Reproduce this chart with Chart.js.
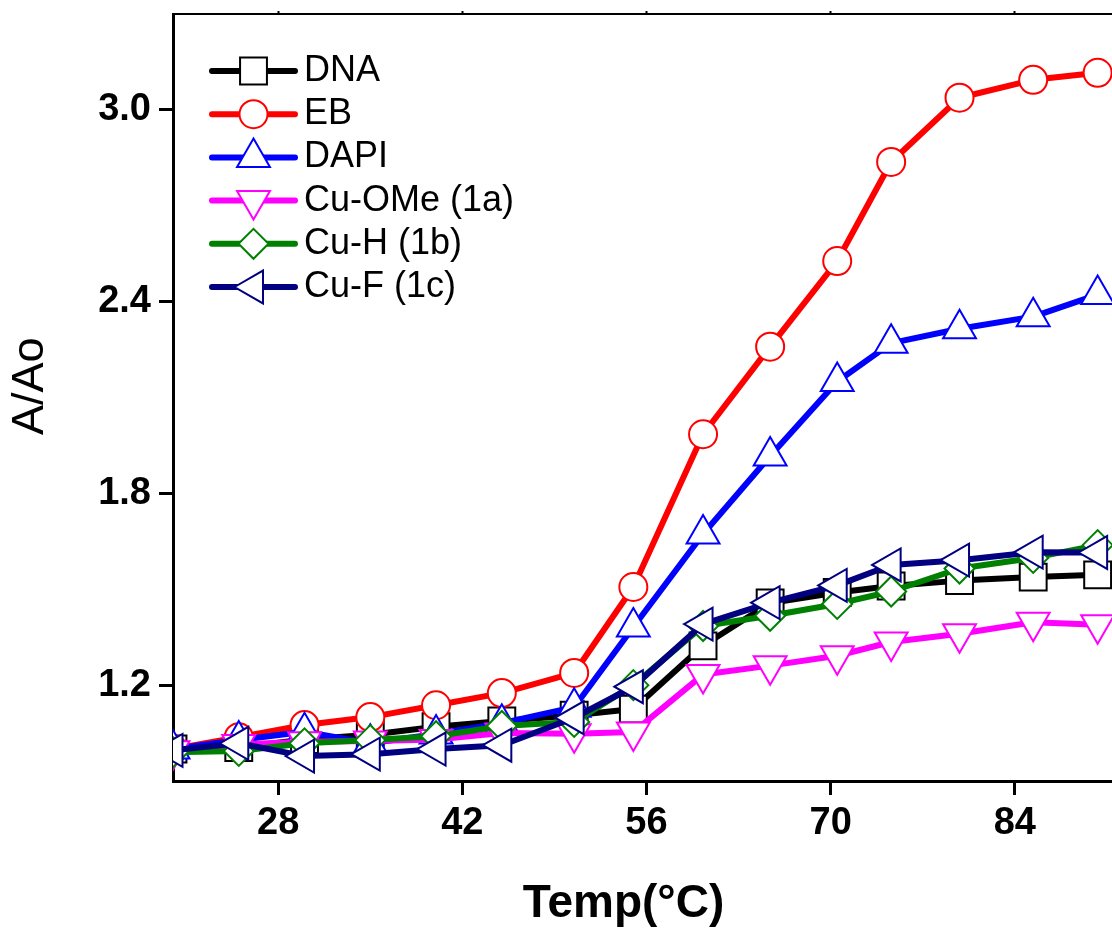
<!DOCTYPE html>
<html>
<head>
<meta charset="utf-8">
<script src="https://cdn.jsdelivr.net/npm/chart.js@4.4.0/dist/chart.umd.min.js"></script>
<style>
  html, body { margin: 0; padding: 0; background: #fff; overflow: hidden; }
  #meltChart { display: block; }
</style>
</head>
<body>
<canvas id="meltChart" width="1124" height="932"></canvas>
<script>
// Melting curves: relative absorbance A/Ao of DNA alone and with each binder
var temps = [20, 25, 30, 35, 40, 45, 50.5, 55, 60.3, 65.4, 70.5, 74.6, 79.8, 85.4, 90.3];

var dna   = [1.0, 1.005, 1.03, 1.045, 1.07, 1.088, 1.106, 1.125, 1.323, 1.457, 1.49, 1.51, 1.527, 1.538, 1.545];
var eb    = [1.0, 1.037, 1.075, 1.10, 1.137, 1.175, 1.238, 1.507, 1.985, 2.259, 2.527, 2.837, 3.038, 3.094, 3.116];
var dapi  = [1.0, 1.028, 1.054, 1.018, 1.047, 1.081, 1.131, 1.382, 1.673, 1.917, 2.15, 2.27, 2.315, 2.353, 2.422];
var cuOMe = [0.995, 1.014, 1.023, 1.025, 1.03, 1.05, 1.048, 1.053, 1.233, 1.261, 1.292, 1.335, 1.361, 1.397, 1.389];
var cuH   = [0.99, 0.994, 1.018, 1.028, 1.04, 1.072, 1.085, 1.2, 1.385, 1.417, 1.454, 1.493, 1.565, 1.598, 1.638];
var cuF   = [0.996, 1.018, 0.978, 0.984, 1.0, 1.012, 1.098, 1.195, 1.391, 1.458, 1.512, 1.576, 1.591, 1.616, 1.615];

var xTicks = [28, 42, 56, 70, 84];
var yTicks = [1.2, 1.8, 2.4, 3.0];

var FONT = '"Liberation Sans", Arial, Helvetica, sans-serif';
Chart.defaults.font.family = FONT;
Chart.defaults.color = '#000';

function pts(values) {
    return values.map(function (v, i) { return { x: temps[i], y: v }; });
}

function series(label, values, color, style, radius, rotation, order) {
    return {
        label: label,
        data: pts(values),
        xAxisID: 'x',
        yAxisID: 'y',
        borderColor: color,
        backgroundColor: color,
        borderWidth: 6,
        borderJoinStyle: 'round',
        pointStyle: style,
        pointRadius: radius,
        pointHoverRadius: radius,
        pointRotation: rotation,
        pointBackgroundColor: '#fff',
        pointBorderColor: color,
        pointBorderWidth: 2,
        tension: 0,
        order: order
    };
}

// legend sits inside the plot, top-left, line + marker like the series
var insideLegend = {
    id: 'insideLegend',
    afterDatasetsDraw: function (chart) {
        var ctx = chart.ctx;
        var area = chart.chartArea;
        var x0 = area.left + 39, x1 = area.left + 122, y0 = area.top + 57, step = 43.2;
        ctx.save();
        chart.data.datasets.forEach(function (ds, i) {
            var y = y0 + i * step;
            ctx.strokeStyle = ds.borderColor;
            ctx.lineWidth = ds.borderWidth;
            ctx.lineCap = 'round';
            ctx.beginPath();
            ctx.moveTo(x0, y);
            ctx.lineTo(x1, y);
            ctx.stroke();

            ctx.fillStyle = '#fff';
            ctx.strokeStyle = ds.pointBorderColor;
            ctx.lineWidth = ds.pointBorderWidth;
            Chart.helpers.drawPoint(ctx, {
                pointStyle: ds.pointStyle,
                rotation: ds.pointRotation,
                radius: ds.pointRadius,
                borderWidth: ds.pointBorderWidth
            }, (x0 + x1) / 2, y);

            ctx.fillStyle = '#000';
            ctx.font = '36px ' + FONT;
            ctx.textAlign = 'left';
            ctx.textBaseline = 'middle';
            ctx.fillText(ds.label, x1 + 9, y);
        });
        ctx.restore();
    }
};

function fixedTicks(list) {
    return function (scale) {
        scale.ticks = list.map(function (v) { return { value: v }; });
    };
}

var axisGrid = {
    display: true,
    drawOnChartArea: false,
    drawTicks: true,
    tickLength: 14,
    tickWidth: 3,
    color: '#000'
};

var ctx = document.getElementById('meltChart').getContext('2d');
var meltChart = new Chart(ctx, {
    type: 'line',
    data: {
        datasets: [
            series('DNA', dna, '#000000', 'rect', 19, 0, 6),
            series('EB', eb, '#ff0000', 'circle', 14, 0, 5),
            series('DAPI', dapi, '#0000ff', 'triangle', 19, 0, 4),
            series('Cu-OMe (1a)', cuOMe, '#ff00ff', 'triangle', 19, 180, 3),
            series('Cu-H (1b)', cuH, '#008000', 'rectRot', 15, 0, 2),
            series('Cu-F (1c)', cuF, '#000080', 'triangle', 19, -90, 1)
        ]
    },
    options: {
        responsive: false,
        animation: false,
        devicePixelRatio: 1,
        layout: {
            autoPadding: false,
            padding: { top: 14, right: 4, left: 0, bottom: 0 }
        },
        plugins: {
            legend: { display: false },
            tooltip: { enabled: false }
        },
        scales: {
            x: {
                type: 'linear',
                position: 'bottom',
                min: 20,
                max: 92,
                afterBuildTicks: fixedTicks(xTicks),
                afterFit: function (s) {
                    s.height = 151;
                    s.paddingLeft = 0;
                    s.paddingRight = 0;
                },
                ticks: {
                    font: { size: 38, weight: 'bold' },
                    padding: 6,
                    callback: function (v) { return String(v); }
                },
                grid: axisGrid,
                border: { display: true, color: '#000', width: 3 },
                title: {
                    display: true,
                    text: 'Temp(°C)\u2003',
                    font: { size: 46, weight: 'bold' },
                    padding: { top: 0, bottom: 0 }
                }
            },
            xTop: {
                type: 'linear',
                position: 'top',
                min: 20,
                max: 92,
                afterBuildTicks: fixedTicks(xTicks),
                afterFit: function (s) {
                    s.height = 0;
                    s.paddingLeft = 0;
                    s.paddingRight = 0;
                },
                ticks: { display: false },
                grid: { display: true, drawOnChartArea: false, tickLength: 3, tickWidth: 2, color: '#000' },
                border: { display: true, color: '#000', width: 2 }
            },
            y: {
                type: 'linear',
                min: 0.9,
                max: 3.3,
                afterBuildTicks: fixedTicks(yTicks),
                afterFit: function (s) {
                    s.width = 173;
                    s.paddingTop = 0;
                    s.paddingBottom = 0;
                },
                ticks: {
                    font: { size: 38, weight: 'bold' },
                    padding: 8,
                    callback: function (v) { return v.toFixed(1); }
                },
                grid: axisGrid,
                border: { display: true, color: '#000', width: 3 },
                title: {
                    display: true,
                    text: '\u2002A/Ao',
                    font: { size: 45 },
                    padding: { top: 4, bottom: 0 }
                }
            }
        }
    },
    plugins: [insideLegend]
});
</script>
</body>
</html>
